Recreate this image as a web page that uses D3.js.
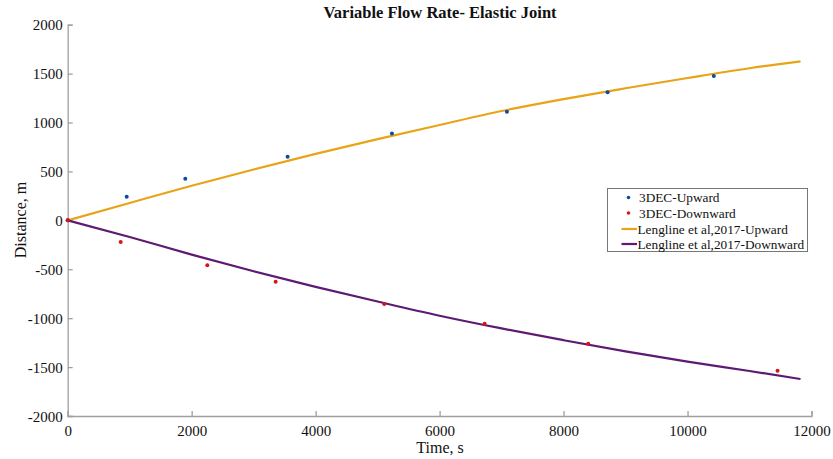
<!DOCTYPE html>
<html><head><meta charset="utf-8">
<script src="https://cdn.jsdelivr.net/npm/d3@7"></script>
<style>body{margin:0;background:#fff}svg{display:block}text{font-family:"Liberation Serif","Times New Roman",serif}</style>
</head><body><svg id="c" width="833" height="459"></svg>
<script>
const title = "Variable Flow Rate- Elastic Joint";
const xTicks = [0,2000,4000,6000,8000,10000,12000];
const yTicks = [-2000,-1500,-1000,-500,0,500,1000,1500,2000];
const upT = [0,952,1897,3548,5231,7086,8710,10424];
const upD = [0,242,426,651,889,1111,1309,1476];
const downT = [0,855,2252,3355,5107,6726,8397,11452];
const downD = [0,-221,-460,-627,-855,-1056,-1261,-1537];
const lineT = [0,1000,2000,3000,4000,5000,6000,7000,8000,9000,10000,11000,11823];
const lineUp = [0,178,354,520,680,830,975,1118,1240,1350,1455,1555,1626];
const lineDown = [0,-170,-350,-520,-680,-830,-975,-1105,-1225,-1340,-1445,-1540,-1622];
const legendLabels = ["3DEC-Upward","3DEC-Downward","Lengline et al,2017-Upward","Lengline et al,2017-Downward"];
const colors = {up:"#0b4c9e", down:"#d81414", lineUp:"#e8a317", lineDown:"#5e1a73"};

const svg = d3.select("#c");
const x = d3.scaleLinear().domain([0,12000]).range([67.7,811.5]);
const y = d3.scaleLinear().domain([-2000,2000]).range([416,24.7]);
const axisColor = "#a0a0a0";
const serif = "Liberation Serif, Times New Roman, serif";

// axes
const xa = svg.append("g").attr("transform",`translate(0,${y(-2000)})`)
  .call(d3.axisBottom(x).tickValues(xTicks).tickSize(-5).tickPadding(9).tickFormat(d=>String(d)));
const ya = svg.append("g").attr("transform",`translate(${x(0)},0)`)
  .call(d3.axisLeft(y).tickValues(yTicks).tickSize(-5).tickPadding(5).tickFormat(d=>String(d)));
[xa,ya].forEach(a=>{
  a.attr("font-family",serif).attr("font-size",15);
  a.selectAll("path").attr("stroke",axisColor).attr("stroke-width",1.3);
  a.selectAll("line").attr("stroke",axisColor).attr("stroke-width",1.3);
  a.selectAll("text").attr("font-size",15).attr("font-family",serif).attr("fill","#111");
});
ya.selectAll("text").attr("dy","0.35em");

// lines
const lineGen = arr => d3.line().x((d,i)=>x(lineT[i])).y((d,i)=>y(arr[i])).curve(d3.curveMonotoneX)(arr);
svg.append("path").attr("d",lineGen(lineUp)).attr("fill","none").attr("stroke",colors.lineUp).attr("stroke-width",2.2);
svg.append("path").attr("d",lineGen(lineDown)).attr("fill","none").attr("stroke",colors.lineDown).attr("stroke-width",2.2);

// points
svg.append("g").selectAll("circle").data(upT).join("circle")
  .attr("cx",(d)=>x(d)).attr("cy",(d,i)=>y(upD[i])).attr("r",2).attr("fill",colors.up);
svg.append("g").selectAll("circle").data(downT).join("circle")
  .attr("cx",(d)=>x(d)).attr("cy",(d,i)=>y(downD[i])).attr("r",2).attr("fill",colors.down);

// title & labels
svg.append("text").attr("x",440).attr("y",18).attr("text-anchor","middle")
  .attr("font-size",16.5).attr("font-weight","bold").attr("fill","#111").text(title);
svg.append("text").attr("x",440).attr("y",453).attr("text-anchor","middle")
  .attr("font-size",16).attr("fill","#111").text("Time, s");
svg.append("text").attr("transform","translate(26,220) rotate(-90)").attr("text-anchor","middle")
  .attr("font-size",16).attr("fill","#111").text("Distance, m");

// legend
const lg = svg.append("g");
lg.append("rect").attr("x",607.5).attr("y",188.5).attr("width",200).attr("height",63)
  .attr("fill","#fff").attr("stroke","#777").attr("stroke-width",1);
const rowsY = [197.5,213,229,244];
legendLabels.forEach((lab,i)=>{
  const yy = rowsY[i];
  if(i<2){
    lg.append("circle").attr("cx",628.5).attr("cy",yy).attr("r",1.8).attr("fill",i===0?colors.up:colors.down);
  } else {
    lg.append("line").attr("x1",621.5).attr("x2",637).attr("y1",yy).attr("y2",yy)
      .attr("stroke",i===2?colors.lineUp:colors.lineDown).attr("stroke-width",2.2);
  }
  lg.append("text").attr("x",i<2?639:637.5).attr("y",yy).attr("dy","0.35em")
    .attr("font-size",13.3).attr("fill","#111").text(lab);
});
</script></body></html>
